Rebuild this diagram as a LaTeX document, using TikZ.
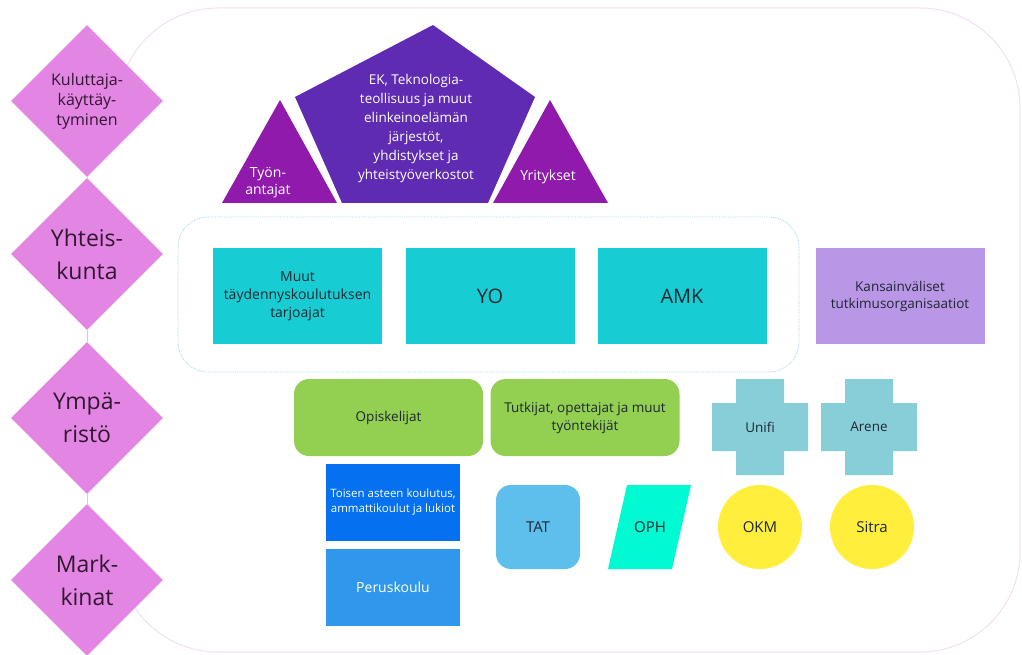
\documentclass[tikz,border=0pt]{standalone}
\usepackage{fontspec}
\setmainfont{Open Sans}
\usetikzlibrary{shapes.geometric}
\definecolor{orkidea}{RGB}{227,133,227}
\definecolor{violetti}{RGB}{95,43,178}
\definecolor{purppura}{RGB}{143,26,171}
\definecolor{turkoosi}{RGB}{23,205,211}
\definecolor{laventeli}{RGB}{185,150,230}
\definecolor{vihrea}{RGB}{147,207,80}
\definecolor{sininen}{RGB}{5,112,240}
\definecolor{vaaleansininen}{RGB}{48,152,236}
\definecolor{taivas}{RGB}{94,190,236}
\definecolor{minttu}{RGB}{0,250,210}
\definecolor{keltainen}{RGB}{255,238,60}
\definecolor{ristinvari}{RGB}{136,206,216}
\definecolor{pisteviiva}{RGB}{165,210,225}
\definecolor{reunus}{RGB}{240,224,240}
\definecolor{muste}{RGB}{30,40,50}
\definecolor{luumu}{RGB}{50,22,50}
\newcommand{\koko}[2]{\fontsize{#1}{#2}\selectfont}

\begin{document}
\begin{tikzpicture}[x=1pt, y=-1pt,
    every node/.append style={inner sep=0pt, align=center, text=muste},
    kulma/.style={diamond, aspect=1, minimum width=152pt, minimum height=152pt, fill=orkidea, text=luumu},
    laatikko/.style={rectangle, minimum width=169pt, minimum height=96pt, fill=turkoosi, font=\koko{14}{18}},
    ryhma/.style={rectangle, rounded corners=15pt, minimum width=189pt, minimum height=77pt, fill=vihrea, font=\koko{13.5}{18}},
    koulu/.style={rectangle, minimum width=134pt, minimum height=77pt, text=white},
    pallo/.style={circle, minimum size=84pt, fill=keltainen, font=\koko{15}{18}},
    liitos/.style={draw=reunus!80!gray, line width=0.8pt}]
    \useasboundingbox (0,0) rectangle (1022,655);
    \draw[reunus, line width=1pt, rounded corners=100pt] (118,108) -- (118,8) -- (1020,8) -- (1020,652) -- (118,652) -- (118,552);

    \node[kulma, font=\koko{16}{20}] (kuluttaja) at (87,101) {Kuluttaja-\\käyttäy-\\tyminen};
    \node[kulma, font=\koko{23}{33}] (yhteiskunta) at (87,254) {Yhteis-\\kunta};
    \node[kulma, font=\koko{23}{33}] (ymparisto) at (87,418) {Ympä-\\ristö};
    \node[kulma, font=\koko{23}{33}] (markkinat) at (87,580) {Mark-\\kinat};
    \draw[liitos] (kuluttaja) -- (yhteiskunta) (yhteiskunta) -- (ymparisto) (ymparisto) -- (markkinat);

    \fill[violetti] (433,25) -- (535,97) -- (488,203) -- (342,203) -- (295,97) -- cycle;
    \fill[purppura] (280,100) -- (337,203) -- (222,203) -- cycle;
    \fill[purppura] (550,100) -- (608,203) -- (493,203) -- cycle;
    \node[text=white, font=\koko{13.5}{19}] (ek) at (416,128) {EK, Teknologia-\\teollisuus ja muut\\elinkeinoelämän\\järjestöt,\\yhdistykset ja\\yhteistyöverkostot};
    \node[text=white, font=\koko{14}{17}] (tyonantajat) at (268,183) {Työn-\\antajat};
    \node[text=white, font=\koko{14}{17}] (yritykset) at (548,177) {Yritykset};

    \draw[pisteviiva, densely dotted, line width=0.8pt, rounded corners=30pt] (178,217) rectangle (799,372);
    \node[laatikko] (muut) at (297.5,296) {Muut\\täydennyskoulutuksen\\tarjoajat};
    \node[laatikko, font=\koko{20}{24}] (yo) at (490,296) {YO};
    \node[laatikko, font=\koko{20}{24}] (amk) at (682,296) {AMK};
    \node[laatikko, fill=laventeli, font=\koko{13.5}{17}] (kansainvaliset) at (900,296) {Kansainväliset\\tutkimusorganisaatiot};

    \node[ryhma] (opiskelijat) at (388.5,417.5) {Opiskelijat};
    \node[ryhma] (tutkijat) at (585,417.5) {Tutkijat, opettajat ja muut\\työntekijät};
    \node[koulu, fill=sininen, font=\koko{11.5}{15}] (toisen) at (393,502.5) {Toisen asteen koulutus,\\ammattikoulut ja lukiot};
    \node[koulu, fill=vaaleansininen, font=\koko{14}{18}] (peruskoulu) at (393,587.5) {Peruskoulu};

    \foreach \x/\nimi in {760/Unifi, 869/Arene} {
        \fill[ristinvari] (\x-24,379) -- (\x+24,379) -- (\x+24,403) -- (\x+48,403) -- (\x+48,451) -- (\x+24,451)
            -- (\x+24,475) -- (\x-24,475) -- (\x-24,451) -- (\x-48,451) -- (\x-48,403) -- (\x-24,403) -- cycle;
        \node[font=\koko{13.5}{17}] (\nimi) at (\x,427) {\nimi};
    }

    \node[rectangle, rounded corners=15pt, minimum size=84pt, fill=taivas, font=\koko{15}{18}] (tat) at (538,527) {TAT};
    \fill[minttu] (627,485) -- (691,485) -- (672,569) -- (608,569) -- cycle;
    \node[font=\koko{15}{18}] (oph) at (650,527) {OPH};
    \node[pallo] (okm) at (760,527) {OKM};
    \node[pallo] (sitra) at (872,527) {Sitra};
\end{tikzpicture}
\end{document}
